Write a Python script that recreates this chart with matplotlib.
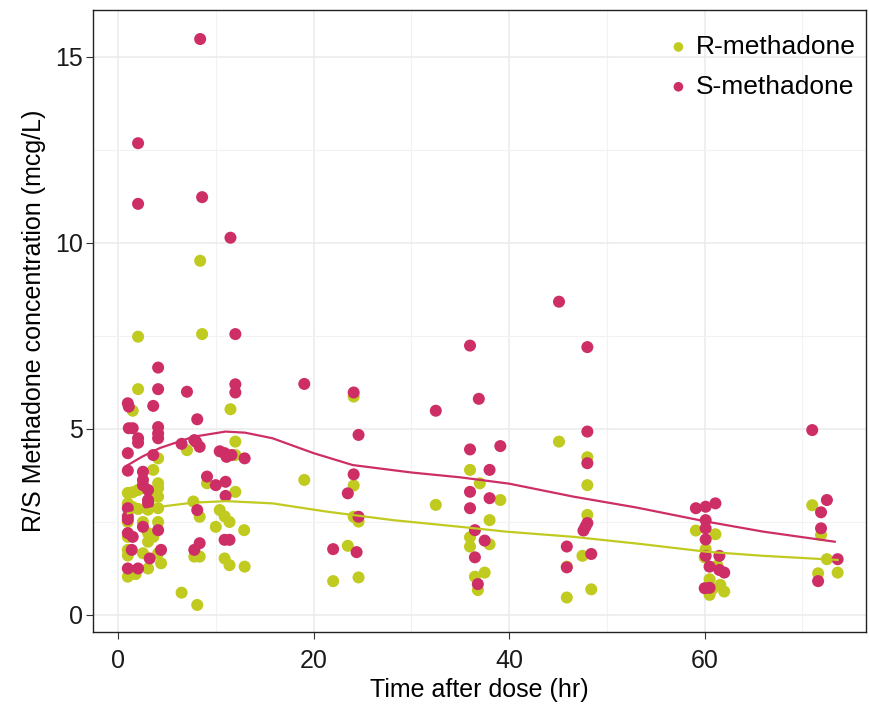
import matplotlib
matplotlib.use("Agg")
import matplotlib.pyplot as plt
from matplotlib.ticker import MultipleLocator

plt.rcParams['font.family'] = ['Liberation Sans', 'DejaVu Sans']

# R-methadone observations (time in hr, concentration in mcg/L)
r_time = [8.4, 2.05, 8.6, 2.05, 1.5, 11.5, 12.0, 7.05, 4.1, 12.0, 3.6, 4.1, 4.1, 1.0, 1.5,
          2.05, 3.6, 4.1, 9.1, 12.0, 1.0, 1.5, 2.05, 3.07, 4.1, 7.7, 8.35, 10.4, 10.9, 11.4,
          10.0, 12.9, 1.0, 2.55, 4.1, 3.07, 3.6, 3.07, 7.8, 8.35, 1.0, 2.55, 4.1, 4.4, 3.07,
          1.0, 1.8, 10.9, 11.4, 12.95, 6.5, 8.1, 1.0, 1.0,
          19.05, 24.1, 24.1, 32.5, 24.1, 24.6, 23.5, 22.0, 24.6,
          45.1, 48.0, 36.0, 37.0, 39.1, 48.0, 38.0, 48.0, 36.0, 36.0, 38.0, 36.5, 37.5, 36.8,
          45.9, 47.5, 45.9, 48.4,
          71.0, 71.9, 72.5, 71.6, 73.6, 59.1, 61.1, 60.1, 61.3, 60.5, 61.6, 60.5, 62.0,
          60.0, 60.8]
r_conc = [9.52, 7.48, 7.55, 6.07, 5.49, 5.53, 4.66, 4.43, 4.21, 4.30, 3.90, 3.54, 3.41, 3.28, 3.30,
          3.36, 3.18, 3.18, 3.54, 3.31, 3.00, 2.90, 2.85, 2.83, 2.87, 3.05, 2.64, 2.82, 2.65, 2.50,
          2.37, 2.28, 2.50, 2.50, 2.50, 2.20, 2.10, 1.97, 1.57, 1.57, 1.75, 1.66, 1.66, 1.39, 1.25,
          1.03, 1.10, 1.52, 1.34, 1.30, 0.60, 0.27, 1.60, 2.10,
          3.63, 5.87, 3.48, 2.96, 2.64, 2.51, 1.86, 0.91, 1.01,
          4.66, 4.24, 3.90, 3.54, 3.09, 3.49, 2.55, 2.69, 2.09, 1.84, 1.90, 1.03, 1.14, 0.67,
          1.30, 1.59, 0.47, 0.69,
          2.95, 2.15, 1.50, 1.12, 1.14, 2.27, 2.17, 1.77, 1.33, 0.96, 0.81, 0.54, 0.63,
          1.55, 0.70]

# S-methadone observations
s_time = [8.4, 2.05, 2.05, 8.6, 11.5, 12.0,
          4.1, 4.1, 7.05, 12.0, 12.0, 1.0, 1.1, 3.6, 8.1, 1.1, 1.5, 2.05, 2.05, 4.1, 4.1, 4.1,
          6.5, 7.8, 8.35, 8.0, 1.0, 3.6, 10.4, 10.9, 11.1, 11.6, 12.95, 1.0, 2.55, 2.55, 2.55,
          3.07, 3.07, 9.1, 10.0, 11.0, 11.0, 1.0, 3.07, 8.1, 1.0, 1.0, 2.55, 4.1, 1.0, 1.5,
          10.9, 11.4, 8.35, 7.8, 1.4, 4.4, 3.24, 1.0, 2.05,
          19.05, 24.1, 32.5, 24.6, 24.1, 23.5, 24.6, 22.0, 24.4,
          45.1, 36.0, 48.0, 36.9, 48.0, 36.0, 39.1, 48.0, 38.0, 36.0, 38.0, 36.0, 48.0, 47.8,
          47.6, 36.5, 37.5, 36.5, 36.8, 45.9, 45.9, 48.4,
          71.0, 72.5, 71.9, 71.9, 73.6, 71.6, 59.1, 60.1, 61.1, 60.1, 60.1, 60.1, 60.1, 61.5,
          60.5, 61.5, 62.0, 60.0, 60.5]
s_conc = [15.48, 12.68, 11.05, 11.23, 10.14, 7.55,
          6.65, 6.07, 6.00, 6.20, 5.98, 5.69, 5.60, 5.62, 5.26, 5.02, 5.02, 4.75, 4.63, 5.05, 4.88, 4.75,
          4.60, 4.70, 4.52, 4.65, 4.35, 4.30, 4.40, 4.35, 4.25, 4.30, 4.21, 3.88, 3.85, 3.63, 3.49,
          3.36, 3.09, 3.72, 3.49, 3.58, 3.20, 2.87, 3.00, 2.82, 2.65, 2.57, 2.37, 2.28, 2.20, 2.10,
          2.02, 2.02, 1.93, 1.75, 1.75, 1.75, 1.52, 1.25, 1.25,
          6.21, 5.98, 5.49, 4.84, 3.78, 3.27, 2.64, 1.77, 1.69,
          8.42, 7.24, 7.20, 5.81, 4.93, 4.45, 4.54, 4.08, 3.90, 3.31, 3.14, 2.87, 2.47, 2.37,
          2.27, 2.28, 2.00, 1.55, 0.83, 1.84, 1.28, 1.64,
          4.97, 3.09, 2.76, 2.33, 1.50, 0.91, 2.87, 2.91, 3.00, 2.55, 2.33, 2.03, 1.59, 1.59,
          1.30, 1.21, 1.14, 0.72, 0.73]

# smoothed curves
r_fit_time = [1.0, 4.3, 7.7, 11.1, 15.8, 21.3, 28.1, 35.0, 39.7, 46.6, 53.4, 60.2, 66.0, 73.6]
r_fit_conc = [2.73, 2.91, 3.02, 3.06, 3.00, 2.78, 2.55, 2.37, 2.24, 2.10, 1.91, 1.70, 1.59, 1.48]
s_fit_time = [0.75, 2.5, 4.3, 7.7, 11.0, 13.0, 15.8, 20.0, 24.0, 30.0, 35.0, 40.0, 46.6, 53.0,
              60.2, 66.0, 73.3]
s_fit_conc = [3.99, 4.26, 4.49, 4.79, 4.93, 4.90, 4.75, 4.35, 4.03, 3.83, 3.70, 3.53, 3.18, 2.89,
              2.51, 2.24, 1.97]

r_color = "#C0CA1F"
s_color = "#CE2E66"

fig = plt.figure(figsize=(8.7, 7.04), dpi=100)
ax = fig.add_axes([93 / 870, 1 - 632 / 704, (866 - 93) / 870, (632 - 10) / 704])

ax.scatter(r_time, r_conc, s=75, color=r_color, edgecolors="none", label="R-methadone", zorder=3)
ax.scatter(s_time, s_conc, s=75, color=s_color, edgecolors="none", label="S-methadone", zorder=3)
ax.plot(r_fit_time, r_fit_conc, color=r_color, lw=1.6, zorder=4)
ax.plot(s_fit_time, s_fit_conc, color=s_color, lw=1.6, zorder=4)

ax.set_xlim(-2.56, 76.5)
ax.set_ylim(-0.457, 16.26)
ax.xaxis.set_major_locator(MultipleLocator(20))
ax.xaxis.set_minor_locator(MultipleLocator(10))
ax.yaxis.set_major_locator(MultipleLocator(5))
ax.yaxis.set_minor_locator(MultipleLocator(2.5))
ax.grid(True, which="major", color="#EBEBEB", lw=1.1, zorder=0)
ax.grid(True, which="minor", color="#F2F2F2", lw=0.8, zorder=0)
ax.set_axisbelow(True)
ax.tick_params(which="minor", length=0)
ax.tick_params(which="major", length=5, width=0.8, color="#333333", pad=2,
               labelsize=18, labelcolor="#1A1A1A")
ax.tick_params(axis="x", which="major", pad=7)
for sp in ax.spines.values():
    sp.set_color("#222222")
    sp.set_linewidth(1.0)

ax.set_xlabel("Time after dose (hr)", fontsize=18, labelpad=4)
ax.set_ylabel("R/S Methadone concentration (mcg/L)", fontsize=18, labelpad=7)

leg = ax.legend(loc="upper right", bbox_to_anchor=(1.0, 0.977), frameon=False,
                fontsize=19, markerscale=0.8, handletextpad=0.05, borderaxespad=0.0,
                labelspacing=0.6, handlelength=1.2)

fig.savefig("out.png", dpi=100)
